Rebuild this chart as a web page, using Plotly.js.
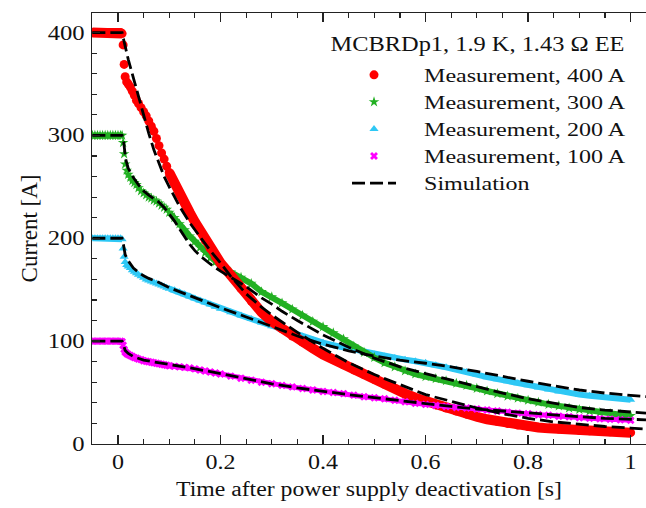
<!DOCTYPE html>
<html>
<head>
<meta charset="utf-8">
<script src="https://cdn.plot.ly/plotly-3.0.1.min.js"></script>
<style>
  html, body { margin: 0; padding: 0; background: #ffffff; }
  #chart { width: 646px; height: 508px; }
</style>
</head>
<body>
<div id="chart"></div>
<script>
// Sample times of the measured decays [s]
const tMeas = [-0.05,-0.045,-0.04,-0.035,-0.03,-0.025,-0.02,-0.015,-0.01,-0.005,0,0.005,0.008,
  0.010,0.012,0.014,0.017,0.020,0.024,0.028,0.032,0.036,0.040,
  0.045,0.050,0.055,0.060,0.065,0.070,0.075,0.080,0.085,0.090,0.095,0.100,
  0.11,0.12,0.13,0.14,0.15,0.16,0.17,0.18,0.19,0.20,
  0.22,0.24,0.26,0.28,0.30,0.32,0.34,0.36,0.38,0.40,0.42,0.44,0.46,0.48,0.50,
  0.52,0.54,0.56,0.58,0.60,0.62,0.64,0.66,0.68,0.70,0.72,0.74,0.76,0.78,0.80,
  0.82,0.84,0.86,0.88,0.90,0.92,0.94,0.96,0.98,1.00];

// Measured current [A]
const meas400 = [400,400,400,400,400,400,400,400,400,400,400,400,399,
  388,369,357,352,350,347,343,339,334,331,
  327,323,319,314,309,304,297,290,283,277,270,264,
  253,243,234,225,216,207,198,190,182,176,
  164,151,139,128,119,112,105,99,93,87,82,77,72,67.5,63,
  58,54,49,45,41.5,38,35,32,29,26.5,24,22,20,18.5,17,
  16,15.2,14.5,14,13.4,12.8,12.3,11.8,11.4,11];
const meas300 = [300,300,300,300,300,300,300,300,300,300,300,300,300,
  293,282,272,266,262,259,256,254,252,249,
  246,244,242,240,239,237,236,234,232,230,228,225,
  220,214,208,202,197,191,186,181,177,173,
  167,162,156,148,143,137,131,125,119,114,108,102,95,89,84,
  79,75,71,68,65.5,63.5,61.5,59,57,54,51.5,49,46.5,44.5,42.5,
  40.5,38.5,37,35,33.5,32,30.5,29.5,28.5,27.5];
const meas200 = [200,200,200,200,200,200,200,200,200,200,200,200,199,
  190,182,177,174,172.5,171,169,167.5,166,164.5,
  163,161.5,160,159,158,157,156,155,154,153,152,151,
  149.5,147.5,145.5,143.5,141.5,139.5,137.5,135.5,133.5,131.5,
  128,125,121.5,118,114.5,111,108,104.5,101,98.5,96,94,91.5,89,87,
  85,83.5,82,80.5,79,76.5,74.5,72.5,70,67.5,65,63,61,59,57,
  55,53,51,49.5,48,47,46,45,44,43];
const meas100 = [100,100,100,100,100,100,100,100,100,100,100,100,99.5,
  96,92,89.5,88,87,86,85,84,83.5,82.5,
  82,81,80.5,80,79.5,79,78.5,78,77.5,77,76.5,76,
  75.5,75,74.5,74,73,72,71,70,69,68,
  66,64,62,60,58.5,57,55.5,54,52.5,51,50,49,47.5,46,45,
  44,42.5,41,39.5,38.5,37.5,36.5,35.5,35,34,33,32,31,30,29.5,
  28.5,28,27,26.5,25.5,25,24.5,24,23.5,23];

// Simulated current [A]
const tSim400 = [-0.05,0.008,0.012,0.02,0.03,0.04,0.05,0.06,0.07,0.08,0.09,0.10,0.12,0.14,0.16,0.18,0.20,0.22,0.25,0.28,0.30,0.32,0.35,0.40,0.45,0.50,0.55,0.60,0.65,0.70,0.75,0.80,0.85,0.90,0.95,1.00,1.03];
const sim400  = [400,400,391,374,356,338,319,302,286,272,260,250,231,215,201,188,176,163,146,133,125.5,118.5,108.5,93,79,67.5,57.5,48,41.5,35,29.5,25,21.5,19,17,15.5,14.5];
const tSim300 = [-0.05,0.008,0.011,0.015,0.02,0.03,0.04,0.05,0.06,0.07,0.08,0.09,0.10,0.11,0.12,0.13,0.14,0.15,0.16,0.18,0.20,0.22,0.25,0.28,0.30,0.32,0.35,0.40,0.45,0.50,0.55,0.60,0.65,0.70,0.75,0.80,0.85,0.90,0.95,1.00,1.03];
const sim300  = [300,300,294,277,268,259,252,246,242,238.5,235,230,224,217,209,201,194,188,183,175,168,162,153,142,136,129,120,106,94,83.5,75,68.5,62,56,49.5,44,39.5,35.5,33,31,30];
const tSim200 = [-0.05,0.008,0.011,0.014,0.02,0.03,0.04,0.05,0.06,0.08,0.10,0.12,0.14,0.16,0.18,0.20,0.25,0.30,0.35,0.40,0.45,0.50,0.55,0.60,0.65,0.70,0.75,0.80,0.85,0.90,0.95,1.00,1.03];
const sim200  = [200,200,193,184,178,171,167,163.5,161,157,152,148,144,140,136,132.5,123.5,114,105,97,90.5,85.5,81.5,78.5,75,70.5,65.5,61,56.5,52.5,49.5,47,46];
const tSim100 = [-0.05,0.008,0.011,0.014,0.02,0.03,0.05,0.075,0.10,0.14,0.20,0.25,0.30,0.35,0.40,0.45,0.50,0.55,0.60,0.65,0.70,0.75,0.80,0.85,0.90,0.95,1.00,1.03];
const sim100  = [100,100,96,91,88,85,81.5,79.5,77,74,68.5,63.5,58.5,54.5,51,48,45,42,39,36.5,34,32,30,28.5,26.5,25,24,23.5];

// Legend labels
const header = 'MCBRDp1, 1.9 K, 1.43 \u03A9 EE';
const labels = ['Measurement, 400 A', 'Measurement, 300 A', 'Measurement, 200 A', 'Measurement, 100 A', 'Simulation'];

const FONT = 'Liberation Serif, Times New Roman, serif';

// The dense samples form a solid band; the band is drawn under the markers
// only on the flat top and on the slow tail, leaving the fast drop as dots.
function band(t, v) {
  const x = [], y = [];
  for (let k = 0; k < t.length; k++) {
    if (t[k] <= 0.008) { x.push(t[k]); y.push(v[k]); }
  }
  x.push(null); y.push(null);
  for (let k = 0; k < t.length; k++) {
    if (t[k] >= 0.1) { x.push(t[k]); y.push(v[k]); }
  }
  return { x, y };
}

function measTraces(v, color, symbol, size, width, name, rank) {
  const b = band(tMeas, v);
  return [
    { x: b.x, y: b.y, type: 'scatter', mode: 'lines', connectgaps: false,
      line: { color: color, width: width }, showlegend: false, hoverinfo: 'skip' },
    { x: tMeas, y: v, type: 'scatter', mode: 'markers', name: name, legendrank: rank,
      marker: { color: color, symbol: symbol, size: size, line: { width: 0 } } }
  ];
}

function simTrace(t, v, show) {
  return { x: t, y: v, type: 'scatter', mode: 'lines', name: labels[4], legendrank: 5,
    showlegend: show, line: { color: '#000000', width: 2.8, dash: '13px,5px' } };
}

const data = [].concat(
  measTraces(meas200, '#2ec8f5', 'triangle-up', 8, 6, labels[2], 3),
  measTraces(meas300, '#22b022', 'star', 8, 6, labels[1], 2),
  measTraces(meas400, '#ff0000', 'circle', 9, 10, labels[0], 1),
  measTraces(meas100, '#ff00ff', 'x', 7, 5, labels[3], 4),
  [simTrace(tSim400, sim400, true), simTrace(tSim300, sim300, false),
   simTrace(tSim200, sim200, false), simTrace(tSim100, sim100, false)]
);

const axisCommon = {
  showgrid: false, zeroline: false, showline: true,
  linecolor: '#222222', linewidth: 1.3,
  ticks: 'inside', tickcolor: '#222222', tickwidth: 1.3,
  tickfont: { family: FONT, size: 20, color: '#111111' }
};

const layout = {
  width: 646, height: 508,
  margin: { l: 92, r: 0, t: 13, b: 64 },
  paper_bgcolor: '#ffffff', plot_bgcolor: '#ffffff',
  font: { family: FONT, color: '#111111' },
  xaxis: Object.assign({}, axisCommon, {
    range: [-0.0507, 1.03], tick0: 0, dtick: 0.2, ticklen: 9, mirror: 'ticks',
    minor: { ticks: 'inside', dtick: 0.05, tick0: 0, ticklen: 5, tickcolor: '#222222', tickwidth: 1.2, showgrid: false },
    title: { text: 'Time after power supply deactivation [s]', font: { family: FONT, size: 20, color: '#111111' }, standoff: 9 }
  }),
  yaxis: Object.assign({}, axisCommon, {
    range: [0, 419], tick0: 0, dtick: 100, ticklen: 8, mirror: false, ticklabelstandoff: 2,
    minor: { ticks: 'inside', dtick: 20, tick0: 0, ticklen: 5, tickcolor: '#222222', tickwidth: 1.2, showgrid: false },
    title: { text: 'Current [A]', font: { family: FONT, size: 23, color: '#111111' }, standoff: 10 }
  }),
  showlegend: true,
  legend: {
    x: 0.4188, xanchor: 'left', y: 0.8995, yanchor: 'top',
    bgcolor: 'rgba(0,0,0,0)', borderwidth: 0, itemwidth: 90,
    font: { family: FONT, size: 18.5, color: '#111111' },
    traceorder: 'normal'
  },
  annotations: [{
    text: header, xref: 'paper', yref: 'paper', x: 0.695, y: 0.926,
    xanchor: 'center', yanchor: 'middle', showarrow: false,
    font: { family: FONT, size: 20, color: '#111111' }
  }]
};

// The lettering on this figure is set wide: stretch each text run horizontally
// so that the widest run of a group reaches the given width in pixels.
function widenTo(selector, width) {
  const els = Array.from(document.querySelectorAll('#chart ' + selector));
  const natural = els.map(function (el) { return el.getComputedTextLength(); });
  const widest = Math.max.apply(null, natural);
  if (!(widest > 0)) return;
  const factor = width / widest;
  els.forEach(function (el, k) {
    if (natural[k] > 0) {
      el.setAttribute('textLength', (natural[k] * factor).toFixed(2));
      el.setAttribute('lengthAdjust', 'spacingAndGlyphs');
    }
  });
}

Plotly.newPlot('chart', data, layout, { displayModeBar: false, staticPlot: true }).then(function () {
  widenTo('.ytick text', 37);
  widenTo('.xtick text', 30);
  widenTo('.g-xtitle text', 386);
  widenTo('.legendtext', 201);
  widenTo('.annotation-text', 294);
  // let the stretched legend text run past the legend's own clip box
  document.querySelectorAll('#chart .legend [clip-path]').forEach(function (el) {
    el.removeAttribute('clip-path');
  });
  // shorter dashed sample, centred on the marker column
  document.querySelectorAll('#chart .legend .legendlines path').forEach(function (el) {
    el.setAttribute('d', 'M28,0h44');
  });
});
</script>
</body>
</html>
